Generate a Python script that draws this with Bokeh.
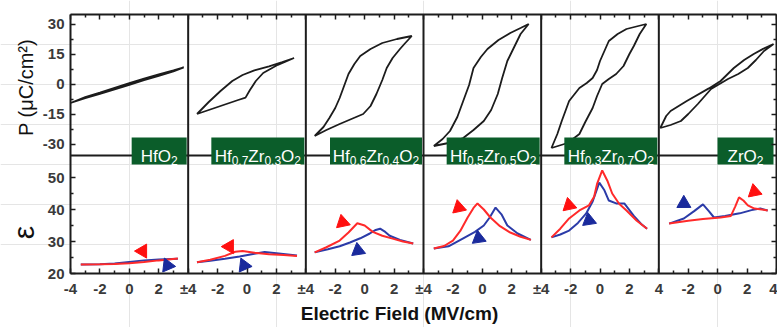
import math
from bokeh.plotting import figure
from bokeh.models import Range1d, LinearAxis, FixedTicker, Label
from bokeh.embed import file_html
from bokeh.resources import INLINE
from bokeh.core.properties import value

# ---------------- data ----------------
compositions = ["HfO2", "Hf0.7Zr0.3O2", "Hf0.6Zr0.4O2", "Hf0.5Zr0.5O2", "Hf0.3Zr0.7O2", "ZrO2"]

# P-E loops (closed paths), E in MV/cm, P in uC/cm2
loop_E_1 = [-4.0, -3.0, -2.0, -1.0, 0.0, 1.0, 2.0, 3.0, 3.7, 3.0, 2.0, 1.0, 0.0, -1.0, -2.0, -3.0, -4.0]
loop_P_1 = [-9.5, -6.6, -4.3, -1.9, 0.4, 2.7, 4.8, 6.8, 8.3, 6.3, 4.1, 1.9, -0.4, -2.7, -4.9, -7.1, -9.5]
loop_E_2 = [-3.4, -2.6, -1.8, -1.0, -0.3, 0.5, 1.5, 2.4, 3.2, 2.1, 1.1, 0.6, 0.2, -0.1, -0.6, -1.4, -2.4, -3.4]
loop_P_2 = [-15, -9, -3.5, 1.5, 4.5, 6.8, 8.8, 11, 13, 9.6, 5.5, 1.5, -3, -6.8, -8, -10, -12.5, -15]
loop_E_3 = [-3.4, -2.8, -2.4, -2.0, -1.7, -1.4, -1.1, -0.7, -0.3, 0.4, 1.2, 2.2, 3.2,
            2.7, 2.4, 1.9, 1.5, 1.2, 0.8, 0.4, -0.1, -0.9, -1.7, -2.6, -3.4]
loop_P_3 = [-26, -21.5, -17, -12, -7, -1, 5, 10, 14, 17.5, 20.5, 22.5, 24,
            20, 17.5, 13, 8, 2, -5, -11, -15, -17.5, -20, -23, -26]
loop_E_4 = [-3.3, -2.7, -2.2, -1.7, -1.3, -0.9, -0.6, -0.1, 0.35, 1.1, 1.9, 2.6, 3.15,
            2.6, 2.2, 1.7, 1.35, 1.05, 0.6, 0.1, -0.6, -1.3, -2.3, -3.3]
loop_P_4 = [-31, -27.5, -23.5, -16.5, -8.5, -0.5, 8, 13.5, 17.5, 22, 25.5, 28, 30,
            25, 19, 11.5, 3, -5, -13, -18.5, -23, -27, -29.5, -31]
loop_E_5 = [-3.3, -2.9, -2.6, -2.1, -1.4, -0.9, -0.5, -0.2, 0.0, 0.6, 1.2, 1.8, 3.15,
            2.7, 2.3, 2.0, 1.6, 1.1, 0.6, 0.15, -0.2, -0.5, -1.0, -1.4, -2.2, -3.3]
loop_P_5 = [-32, -25, -18.5, -8.5, -2, 0.5, 3, 7, 11.5, 21.5, 25, 27.5, 30,
            25, 19, 15, 9, 5, 2.5, 0, -6, -12, -19, -25, -29.5, -32]
loop_E_6 = [3.8, 3.2, 2.45, 1.8, 1.1, 0.2, -0.6, -2.1, -3.2, -3.5, -3.9, -3.2, -2.5, -2.0,
            -1.35, -0.45, 0.7, 1.4, 2.05, 2.6, 3.15, 3.8]
loop_P_6 = [20, 18, 15, 12, 8, 1.5, -2.2, -8.5, -13.5, -16, -22, -20.5, -18.5, -15,
            -10, -2.5, 2.5, 5, 8, 12, 16.5, 20]

# permittivity curves: red (down sweep) and blue (up sweep)
red_E_1 = [-3.3, -2, -1, 0, 1, 2, 3.3]
red_eps_1 = [22.8, 22.9, 23.0, 23.2, 23.6, 24.1, 24.7]
blue_E_1 = [-3.3, -2, -1, 0, 1, 2, 3.3]
blue_eps_1 = [22.8, 22.9, 23.1, 23.6, 24.1, 24.4, 24.6]
red_E_2 = [-3.4, -2.5, -1.5, -0.8, -0.3, 0.5, 1.5, 2.5, 3.4]
red_eps_2 = [23.5, 24.3, 25.5, 26.8, 27.0, 26.5, 26.0, 25.8, 25.5]
blue_E_2 = [-3.4, -2.5, -1.5, -0.5, 0.5, 1.2, 2.0, 3.4]
blue_eps_2 = [23.5, 24.0, 24.6, 25.3, 26.2, 26.7, 26.3, 25.6]
red_E_3 = [-3.4, -2.6, -1.7, -1.1, -0.5, 0.0, 0.55, 1.2, 1.9, 2.6, 3.3]
red_eps_3 = [26.6, 28.2, 30.3, 32.8, 35.7, 35.0, 33.0, 31.8, 30.9, 30.0, 29.4]
blue_E_3 = [-3.4, -2.5, -1.7, -1.0, -0.3, 0.35, 0.75, 1.05, 1.4, 1.7, 2.4, 3.3]
blue_eps_3 = [26.6, 27.6, 28.5, 29.7, 31.0, 32.5, 33.6, 34.0, 33.0, 31.8, 30.5, 29.4]
red_E_4 = [-3.3, -2.6, -2.0, -1.5, -1.0, -0.6, -0.33, 0.1, 0.55, 1.2, 1.9, 2.6, 3.3]
red_eps_4 = [27.8, 28.6, 30.3, 33.3, 37.5, 40.5, 41.9, 40.0, 37.5, 34.8, 32.8, 31.5, 30.5]
blue_E_4 = [-3.3, -2.3, -1.3, -0.5, 0.1, 0.5, 0.9, 1.3, 1.7, 2.4, 3.3]
blue_eps_4 = [27.8, 28.5, 31.0, 33.0, 35.0, 37.5, 40.6, 38.5, 35.0, 32.5, 30.5]
red_E_5 = [-3.3, -2.7, -2.1, -1.4, -0.75, -0.4, -0.2, 0.15, 0.5, 0.83, 1.3, 1.8, 2.5, 3.2]
red_eps_5 = [31.3, 34.0, 37.2, 39.7, 41.3, 44.0, 48.0, 52.2, 49.0, 45.0, 41.8, 39.7, 36.5, 34.0]
blue_E_5 = [-3.3, -2.7, -2.1, -1.5, -0.95, -0.5, -0.05, 0.3, 0.6, 1.1, 1.65, 2.3, 2.8, 3.2]
blue_eps_5 = [31.3, 32.2, 33.4, 35.8, 38.7, 42.5, 48.4, 46.0, 42.8, 41.9, 41.9, 38.0, 35.5, 34.0]
red_E_6 = [-3.3, -2.0, -1.0, 0.2, 0.9, 1.2, 1.45, 1.75, 2.05, 2.5, 3.0, 3.4]
red_eps_6 = [35.6, 36.5, 37.0, 37.5, 38.0, 41.0, 43.8, 42.8, 41.3, 40.3, 40.0, 39.7]
blue_E_6 = [-3.3, -2.3, -1.6, -1.0, -0.6, -0.25, 0.5, 1.5, 2.3, 2.9, 3.4]
blue_eps_6 = [35.6, 37.2, 39.5, 41.6, 39.5, 37.5, 38.0, 38.8, 39.8, 40.3, 39.7]

# sweep-direction arrow heads (one per panel)
red_arrow_E = [0.9, -1.2, -1.5, -1.6, -2.1, 2.5]
red_arrow_eps = [27.0, 28.4, 36.0, 40.6, 41.3, 45.6]
red_arrow_angle = [1.57, 1.57, 2.3, 2.3, 2.3, -1.9]
blue_arrow_E = [2.6, -0.2, -0.45, -0.25, -0.75, -2.3]
blue_arrow_eps = [22.5, 22.5, 27.2, 31.0, 36.6, 41.9]
blue_arrow_angle = [2.5, 2.5, 0.15, 0.15, 0.15, 2.1]

# axis ticks
P_ticks = [-30, -15, 0, 15, 30]
P_minor = [-22.5, -7.5, 7.5, 22.5]
eps_ticks = [20, 30, 40, 50]
eps_minor = [25, 35, 45]
x_tick_labels = ["-4", "-2", "0", "2", "±4", "-2", "0", "2", "±4", "-2", "0", "2",
                 "±4", "-2", "0", "2", "±4", "-2", "0", "2", "4", "-2", "0", "2", "4"]

loops_E = [loop_E_1, loop_E_2, loop_E_3, loop_E_4, loop_E_5, loop_E_6]
loops_P = [loop_P_1, loop_P_2, loop_P_3, loop_P_4, loop_P_5, loop_P_6]
reds_E = [red_E_1, red_E_2, red_E_3, red_E_4, red_E_5, red_E_6]
reds_eps = [red_eps_1, red_eps_2, red_eps_3, red_eps_4, red_eps_5, red_eps_6]
blues_E = [blue_E_1, blue_E_2, blue_E_3, blue_E_4, blue_E_5, blue_E_6]
blues_eps = [blue_eps_1, blue_eps_2, blue_eps_3, blue_eps_4, blue_eps_5, blue_eps_6]

# ---------------- layout (pixel geometry of the canvas) ----------------
W, H = 777, 327
FL, FR, FT, FM, FB = 70, 776, 14, 155, 273   # frame left/right/top/middle/bottom px
PAN = 8
NP = len(compositions)
X0, X1 = -4, -4 + PAN * NP
PXX = (FR - FL) / (X1 - X0)        # px per E unit
P_PX = 2.0                          # px per P unit
P_TOP = 34.75                       # P at top edge of plot
EPS_PX = 3.2                        # px per eps unit


def dx(px):      # canvas x px -> data x
    return X0 + (px - FL) / PXX


def dP(py):      # canvas y px -> P data
    return P_TOP - (py - FT) / P_PX


def deps(py):    # canvas y px -> eps data
    return 20 + (FB - py) / EPS_PX


def eps_to_P(e):
    return dP(FB - (e - 20) * EPS_PX)


def off(E, i):
    return [e + PAN * i for e in E]


P_BOT = dP(FB)
P_DIV = dP(FM)

FONT = "Liberation Sans"
INK = "#1c1c1c"
RED = "#ff2a2a"
BLUE = "#2b3ba8"
GREEN = "#0b5d2a"

p = figure(width=W, height=H, x_range=Range1d(dx(0), dx(W)), y_range=Range1d(dP(H), dP(0)),
           output_backend="svg", toolbar_location=None,
           x_axis_location=None, y_axis_location=None,
           min_border=0, min_border_left=0, min_border_right=0,
           min_border_top=0, min_border_bottom=0)
p.extra_y_ranges = {"eps": Range1d(deps(H), deps(0))}
p.title.visible = False
p.outline_line_color = None
p.background_fill_color = "white"
p.border_fill_color = "white"

# ticks
x_major = []
x_minor = []
for i in range(NP):
    x_major += [PAN * i - 4, PAN * i - 2, PAN * i, PAN * i + 2]
    x_minor += [PAN * i - 3, PAN * i - 1, PAN * i + 1, PAN * i + 3]
x_major.append(X1)
y_major = P_ticks + [eps_to_P(e) for e in eps_ticks]
y_minor = P_minor + [eps_to_P(e) for e in eps_minor]
y_over = {t: str(t) for t in P_ticks}
for e in eps_ticks:
    y_over[eps_to_P(e)] = str(e)


def make_axis(loc, fixed, bounds, ticks, minor, overrides):
    ax = LinearAxis(ticker=FixedTicker(ticks=ticks, minor_ticks=minor),
                    fixed_location=fixed, bounds=bounds)
    ax.axis_line_color = INK
    ax.axis_line_width = 2
    ax.major_tick_in = 5
    ax.major_tick_out = 0
    ax.minor_tick_in = 3
    ax.minor_tick_out = 0
    ax.major_tick_line_color = INK
    ax.minor_tick_line_color = INK
    ax.major_tick_line_width = 1.5
    ax.minor_tick_line_width = 1.5
    ax.major_label_overrides = overrides
    ax.major_label_text_font = FONT
    ax.major_label_text_font_size = "15px"
    ax.major_label_text_font_style = "bold"
    ax.major_label_text_color = "#3a3a3a"
    ax.major_label_standoff = 6
    p.add_layout(ax, loc)
    return ax


make_axis("below", P_BOT, (X0, X1), x_major, x_minor,
          {t: s for t, s in zip(x_major, x_tick_labels)})
make_axis("left", X0, (P_BOT, P_TOP), y_major, y_minor, y_over)
make_axis("above", P_TOP, (X0, X1), x_major, x_minor, {t: "" for t in x_major})
make_axis("right", X1, (P_BOT, P_TOP), y_major, y_minor, {t: "" for t in y_major})

# panel dividers
div_x = [PAN * i + 4 for i in range(NP - 1)]
p.segment(x0=div_x, y0=[P_BOT] * len(div_x), x1=div_x, y1=[P_TOP] * len(div_x),
          line_color=INK, line_width=2)
p.segment(x0=[X0], y0=[P_DIV], x1=[X1], y1=[P_DIV], line_color=INK, line_width=2)

# curves
for i in range(NP):
    p.line(off(loops_E[i], i), loops_P[i], line_color=INK, line_width=1.8)
    p.line(off(blues_E[i], i), blues_eps[i], y_range_name="eps", line_color=BLUE, line_width=2)
    p.line(off(reds_E[i], i), reds_eps[i], y_range_name="eps", line_color=RED, line_width=2)

p.scatter([e + PAN * i for i, e in enumerate(red_arrow_E)], red_arrow_eps, y_range_name="eps",
          marker="triangle", size=14, angle=red_arrow_angle, fill_color="#ff1010",
          line_color="#ff1010")
p.scatter([e + PAN * i for i, e in enumerate(blue_arrow_E)], blue_arrow_eps, y_range_name="eps",
          marker="triangle", size=14, angle=blue_arrow_angle, fill_color="#1a2a9c",
          line_color="#1a2a9c")

# composition tags
CW = {"H": .722, "f": .278, "Z": .611, "r": .333, "O": .778, ".": .278}
MAIN_FS, SUB_FS = 17, 12
box_w_px = [55, 93, 92, 93, 93, 56]
box_top, box_bot = dP(137), dP(164)
base_main, base_sub = dP(156), dP(159.5)

q_l, q_r = [], []
mx, my, mt, sx_, sy_, st = [], [], [], [], [], []
for i, name in enumerate(compositions):
    runs = []
    for ch in name:
        sub = ch.isdigit() or ch == "."
        if runs and runs[-1][1] == sub:
            runs[-1][0] += ch
        else:
            runs.append([ch, sub])
    widths = [sum(CW.get(c, .556) for c in r) * (SUB_FS if s else MAIN_FS) for r, s in runs]
    total = sum(widths)
    right = PAN * i + 4 - (3 if i == NP - 1 else 1.5) / PXX
    left = right - box_w_px[i] / PXX
    q_l.append(left)
    q_r.append(right)
    cur = left + (box_w_px[i] - total) / 2 / PXX
    for (r, s), w in zip(runs, widths):
        if s:
            sx_.append(cur); sy_.append(base_sub); st.append(r)
        else:
            mx.append(cur); my.append(base_main); mt.append(r)
        cur += w / PXX

p.quad(left=q_l, right=q_r, top=[box_top] * NP, bottom=[box_bot] * NP,
       fill_color=GREEN, line_color=None)
p.text(mx, my, text=mt, text_font=value(FONT), text_font_size=f"{MAIN_FS}px",
       text_color="white", text_baseline="alphabetic", text_align="left")
p.text(sx_, sy_, text=st, text_font=value(FONT), text_font_size=f"{SUB_FS}px",
       text_color="white", text_baseline="alphabetic", text_align="left")

# axis titles
p.add_layout(Label(x=dx(25), y=dP(87), text="P (μC/cm²)", angle=math.pi / 2,
                   text_align="center", text_baseline="middle", text_font=FONT,
                   text_font_size="20px", text_color="#111111"))
p.add_layout(Label(x=dx(23), y=dP(232), text="ε", angle=math.pi / 2,
                   text_align="center", text_baseline="middle", text_font=FONT,
                   text_font_size="30px", text_color="#111111"))
p.add_layout(Label(x=dx(399), y=dP(313), text="Electric Field (MV/cm)",
                   text_align="center", text_baseline="middle", text_font=FONT,
                   text_font_size="19px", text_font_style="bold", text_color="#111111"))

open("out.html", "w").write(file_html(p, INLINE))
